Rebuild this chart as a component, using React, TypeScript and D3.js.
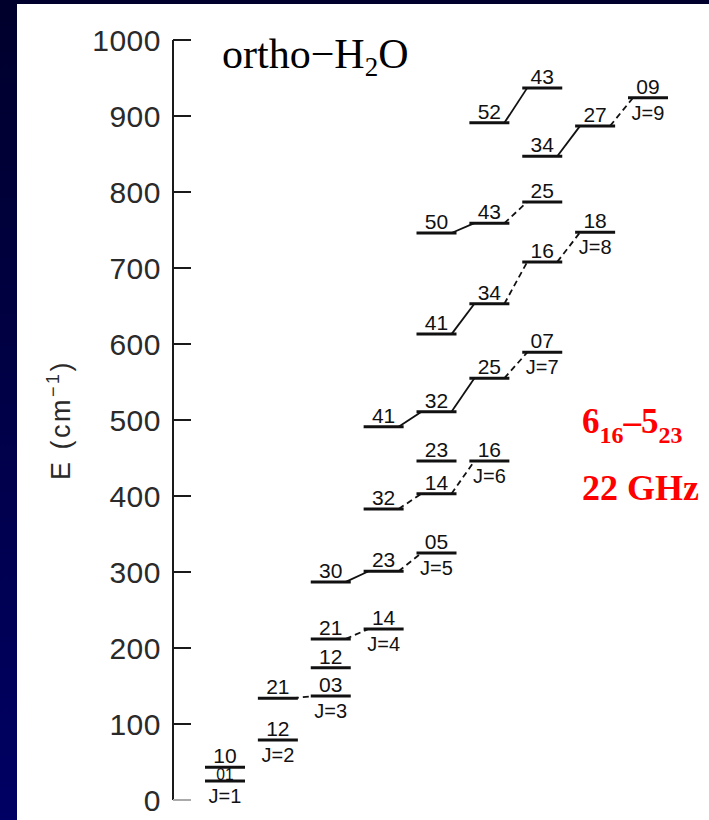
import React from "react";
import * as d3 from "d3";

// Rotational levels of ortho-water: J, KaKc label, term energy (cm^-1)
const levelJ = [1, 1, 2, 2, 3, 3, 3, 3, 4, 4, 4, 4, 5, 5, 5, 5, 5, 5, 6, 6, 6, 6, 6, 7, 7, 7, 7, 7, 8, 8, 9];
const levelK = ["01", "10", "12", "21", "03", "12", "21", "30", "14", "23", "32", "41", "05", "14", "23", "32", "41", "50", "16", "25", "34", "43", "52", "07", "16", "25", "34", "43", "18", "27", "09"];
const levelE = [25, 43, 79, 134, 137, 174, 212, 287, 225, 301, 383, 491, 325, 403, 446, 511, 613, 746, 446, 555, 653, 759, 891, 589, 708, 787, 847, 937, 747, 887, 924];

// Connections along the ladders (lower level -> upper level)
const solidFrom = ["3_30", "4_41", "5_32", "5_41", "5_50", "6_52", "7_34"];
const solidTo = ["4_23", "5_32", "6_25", "6_34", "6_43", "7_43", "8_27"];
const dashedFrom = ["2_21", "3_21", "4_23", "4_32", "5_14", "6_25", "6_34", "7_16", "6_43", "8_27"];
const dashedTo = ["3_03", "4_14", "5_05", "5_14", "6_16", "7_07", "7_16", "8_18", "7_25", "9_09"];

const yTicks = [0, 100, 200, 300, 400, 500, 600, 700, 800, 900, 1000];

const W = 709;
const H = 820;

export default function App() {
  const y = d3.scaleLinear().domain([0, 1000]).range([800, 40]);
  const col = d3.scaleLinear().domain([1, 9]).range([205, 628]);
  const barW = 40;
  const axisX = 173;
  const labelSize = 21;

  const levels = levelJ.map((J, i) => ({
    J,
    K: levelK[i],
    E: levelE[i],
    id: `${J}_${levelK[i]}`,
    x0: col(J),
    x1: col(J) + barW,
    y: y(levelE[i]),
  }));
  const byId = new Map(levels.map((l) => [l.id, l]));

  // lowest level of each J carries the "J=n" tag
  const lowest = new Map<number, (typeof levels)[number]>();
  levels.forEach((l) => {
    const cur = lowest.get(l.J);
    if (!cur || l.E < cur.E) lowest.set(l.J, l);
  });

  // room between a level and the next one above it in the same column
  const roomAbove = (l: (typeof levels)[number]) => {
    const above = levels.filter((o) => o.J === l.J && o.E > l.E);
    if (!above.length) return Infinity;
    return l.y - d3.max(above, (o) => o.y)!;
  };

  const links = [
    ...solidFrom.map((f, i) => ({ a: byId.get(f)!, b: byId.get(solidTo[i])!, dashed: false })),
    ...dashedFrom.map((f, i) => ({ a: byId.get(f)!, b: byId.get(dashedTo[i])!, dashed: true })),
  ];

  const labelFont = "'Liberation Sans', Arial, sans-serif";
  const inset = 5;

  return (
    <svg width={W} height={H} style={{ position: "absolute", left: 0, top: 0 }}>
      <defs>
        <linearGradient id="frame" x1="0" y1="0" x2="0" y2="1">
          <stop offset="0" stopColor="#00002c" />
          <stop offset="1" stopColor="#000064" />
        </linearGradient>
      </defs>
      <rect x={0} y={0} width={W} height={H} fill="url(#frame)" />
      <rect x={17} y={4} width={W - 17} height={H - 4} fill="#ffffff" />

      {/* energy axis */}
      <line x1={axisX} x2={axisX} y1={y(1000)} y2={y(0)} stroke="#1a1a1a" strokeWidth={2} />
      {yTicks.map((t) => (
        <g key={t}>
          <line
            x1={axisX}
            x2={axisX + 18}
            y1={y(t)}
            y2={y(t)}
            stroke={t === 0 ? "#aaaaaa" : "#1a1a1a"}
            strokeWidth={2}
          />
          <text
            x={161}
            y={y(t) + 11}
            textAnchor="end"
            fontFamily={labelFont}
            fontSize={30}
            letterSpacing={0.5}
            fill="#2a2a2a"
          >
            {t}
          </text>
        </g>
      ))}
      <text
        transform={`translate(70,420) rotate(-90)`}
        textAnchor="middle"
        fontFamily={labelFont}
        fontSize={27}
        letterSpacing={2.5}
        fill="#2a2a2a"
      >
        E (cm
        <tspan fontSize={18} dy={-11}>−1</tspan>
        <tspan dy={11}>)</tspan>
      </text>

      {/* title */}
      <text x={222} y={68} fontFamily="'Liberation Serif', 'Times New Roman', serif" fontSize={42} fill="#000">
        ortho−H
        <tspan fontSize={27} dy={8}>2</tspan>
        <tspan dy={-8}>O</tspan>
      </text>

      {/* ladder connections */}
      {links.map((k, i) => (
        <line
          key={i}
          x1={k.a.x1 - inset}
          y1={k.a.y}
          x2={k.b.x0 + inset}
          y2={k.b.y}
          stroke="#111"
          strokeWidth={1.8}
          strokeDasharray={k.dashed ? "6 4" : undefined}
        />
      ))}

      {/* level labels; a label squeezed under a close neighbour is drawn smaller */}
      {levels.map((l) => {
        const room = roomAbove(l);
        const tight = room < labelSize + 2;
        return (
          <text
            key={`k${l.id}`}
            x={(l.x0 + l.x1) / 2}
            y={l.y - (tight ? 1 : 4)}
            textAnchor="middle"
            fontFamily={labelFont}
            fontSize={tight ? Math.min(labelSize, room + 2) : labelSize}
            fill="#111"
          >
            {l.K}
          </text>
        );
      })}
      {[...lowest.values()].map((l) => (
        <text
          key={`j${l.J}`}
          x={(l.x0 + l.x1) / 2}
          y={l.y + 22}
          textAnchor="middle"
          fontFamily={labelFont}
          fontSize={20}
          fill="#111"
        >
          {`J=${l.J}`}
        </text>
      ))}

      {/* levels */}
      {levels.map((l) => (
        <line key={l.id} x1={l.x0} x2={l.x1} y1={l.y} y2={l.y} stroke="#111" strokeWidth={3} />
      ))}

      {/* maser line annotation */}
      <g fontFamily="'Liberation Serif', 'Times New Roman', serif" fontWeight="bold" fill="#ff0000">
        <text x={582} y={433} fontSize={35}>
          6<tspan fontSize={24} dy={10}>16</tspan>
          <tspan dy={-10}>–5</tspan>
          <tspan fontSize={24} dy={10}>23</tspan>
        </text>
        <text x={582} y={500} fontSize={36}>
          22 GHz
        </text>
      </g>
    </svg>
  );
}
